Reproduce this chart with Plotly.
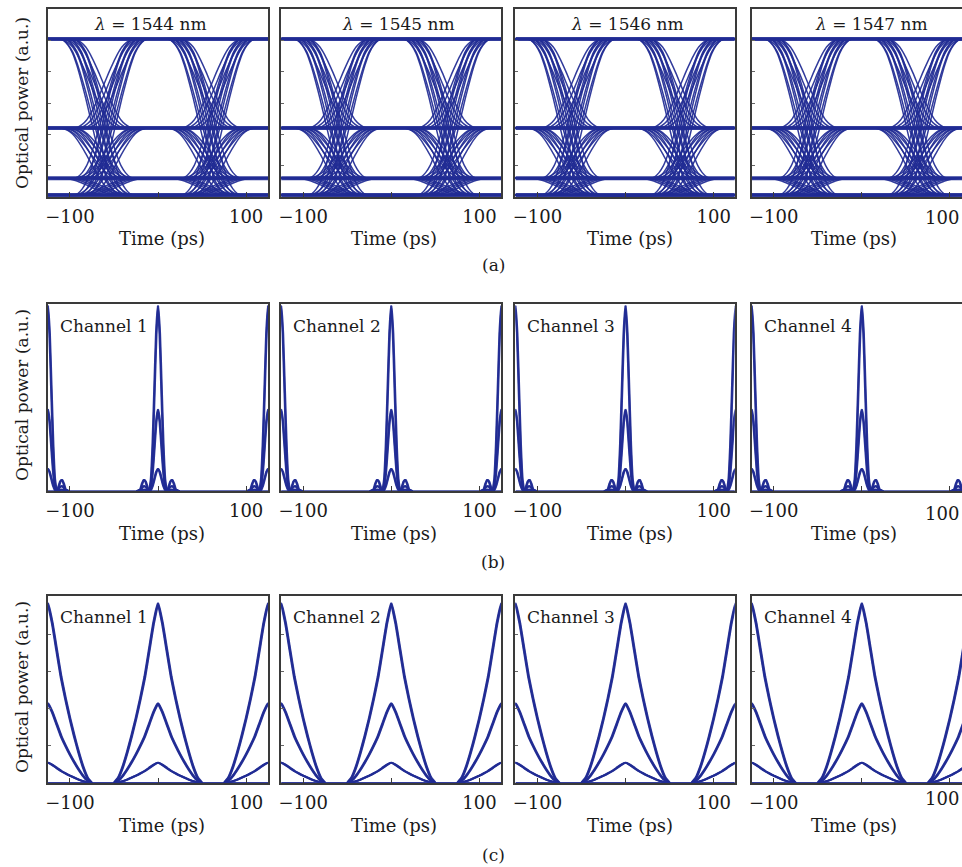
import plotly.graph_objects as go

W, H = 962, 867

# ---------------- data ----------------
wavelengths = ["1544", "1545", "1546", "1547"]
channels = ["Channel 1", "Channel 2", "Channel 3", "Channel 4"]
row_captions = ["(a)", "(b)", "(c)"]

x_tick_vals = [-100, 0, 100]
x_tick_text = ["\u2212100", "", "100"]

# (a) PAM4 eye: signal levels (a.u.)
eye_levels = [0.01, 0.10, 0.367, 0.84]
# normalised edge profile: time from edge centre (ps) / fraction of step
edge_t = [-35, -30, -25, -20, -15, -10, -5, 0, 5, 10, 15, 20, 25, 30, 35]
edge_v = [0.0, 0.01, 0.04, 0.09, 0.17, 0.27, 0.38, 0.50, 0.62, 0.73, 0.83, 0.91, 0.96, 0.99, 1.0]
# left / right edge centre (ps) for each wavelength panel
edge_centres = [(-62, 60), (-61, 63), (-62, 62), (-61, 63)]
fall_shift = -8
rise_shift = 8
edge_spread = [-7, -2, 3, 8]

# (b) narrow pulses: time from pulse centre (ps) / relative power
narrow_t = [0, 2, 4, 6, 8, 10, 12, 14, 16, 18, 20, 24]
narrow_v = [1.0, 0.85, 0.55, 0.25, 0.06, 0.0, 0.02, 0.05, 0.06, 0.04, 0.01, 0.0]
narrow_peaks = [1.0, 0.44, 0.12]

# (c) wide pulses
wide_t = [0, 5, 10, 15, 20, 25, 30, 35, 40, 45, 50]
wide_v = [1.0, 0.89, 0.74, 0.59, 0.47, 0.36, 0.26, 0.17, 0.09, 0.03, 0.0]
wide_peaks = [0.97, 0.43, 0.11]

pulse_slots = [-125, 0, 125]
pulse_jitter = [-0.6, 0.0, 0.6]

# ---------------- layout geometry (pixels) ----------------
col_px = [(45, 266), (279, 500), (514, 734), (751, 962)]
row_px = [(9, 197), (304, 491), (596, 783)]
tick_label_y = [218, 513, 798]
full_w = 221.0
LINE = "rgba(33,43,148,0.92)"
FONT = "DejaVu Serif, Liberation Serif, serif"
TXT = "#1a1a1a"


def px_x(p):
    return p / W


def px_y(p):
    return 1 - p / H


fig = go.Figure()


def axis_names(r, c):
    n = r * 4 + c + 1
    return ("x" if n == 1 else f"x{n}", "y" if n == 1 else f"y{n}",
            "xaxis" if n == 1 else f"xaxis{n}", "yaxis" if n == 1 else f"yaxis{n}")


def edge_pts(centre, y0, y1, k):
    if y0 == y1:
        return [], []
    sh = fall_shift if y1 < y0 else rise_shift
    c0 = centre + sh + edge_spread[k % len(edge_spread)]
    xs = [c0 + t for t in edge_t]
    ys = [y0 + (y1 - y0) * v for v in edge_v]
    return xs, ys


def pulse_pts(centre, peak, tt, vv):
    xs = [centre - t for t in reversed(tt)] + [centre + t for t in tt[1:]]
    ys = [peak * v for v in reversed(vv)] + [peak * v for v in vv[1:]]
    return xs, ys


ann = []
for r in range(3):
    for c in range(4):
        xa, ya, xk, yk = axis_names(r, c)
        x0, x1 = col_px[c]
        y0, y1 = row_px[r]
        xr_max = -125 + 250 * (x1 - x0) / full_w
        yrange = [0, 1] if r == 0 else [0, 1.01]
        ttext = x_tick_text if c != 3 else [x_tick_text[0], "", ""]
        if r == 0:
            yticks = [1 / 6, 2 / 6, 3 / 6, 4 / 6, 5 / 6]
        elif r == 2:
            yticks = [0.2, 0.4, 0.6, 0.8]
        else:
            yticks = []
        fig.layout[xk] = dict(
            domain=[px_x(x0), px_x(x1)], range=[-125, xr_max], anchor=ya,
            showline=True, linecolor="#3a3a3a", linewidth=1.7, mirror=True,
            ticks="inside", ticklen=5, tickcolor="#3a3a3a",
            tickvals=x_tick_vals, ticktext=ttext,
            tickfont=dict(family=FONT, size=18, color=TXT),
            ticklabelstandoff=3,
            showgrid=False, zeroline=False, fixedrange=True,
        )
        fig.layout[yk] = dict(
            domain=[px_y(y1), px_y(y0)], range=yrange, anchor=xa,
            showline=True, linecolor="#3a3a3a", linewidth=1.7, mirror=(c != 3),
            ticks="inside", ticklen=3, tickcolor="#666666",
            tickvals=yticks,
            showticklabels=False, showgrid=False, zeroline=False, fixedrange=True,
        )
        if c == 3:
            # last tick label of the cut-off right panel, placed on its own axis scale
            ann.append(dict(x=x_tick_vals[2], xref=xa, y=px_y(tick_label_y[r]), yref="paper",
                            text=x_tick_text[2], showarrow=False, xshift=-8,
                            font=dict(family=FONT, size=18, color=TXT),
                            xanchor="center", yanchor="middle"))

        X, Y = [], []
        if r == 0:
            cl, cr = edge_centres[c]
            k = 0
            for a in range(4):
                for b in range(4):
                    for d in range(4):
                        la, lb, ld = eye_levels[a], eye_levels[b], eye_levels[d]
                        e1x, e1y = edge_pts(cl, la, lb, 3 * a + b + k)
                        e2x, e2y = edge_pts(cr, lb, ld, a + 2 * b + 3 * d)
                        X += [-125] + e1x + e2x + [125, None]
                        Y += [la] + e1y + e2y + [ld, None]
                        k += 1
            fig.add_trace(go.Scatter(x=X, y=Y, xaxis=xa, yaxis=ya, mode="lines",
                                     line=dict(color=LINE, width=1.5, shape="spline", smoothing=0.5),
                                     hoverinfo="skip", showlegend=False))
            BX, BY = [], []
            for lv in eye_levels:
                BX += [-125, 125, None]
                BY += [lv, lv, None]
            fig.add_trace(go.Scatter(x=BX, y=BY, xaxis=xa, yaxis=ya, mode="lines",
                                     line=dict(color=LINE, width=4), hoverinfo="skip",
                                     showlegend=False))
        else:
            tt, vv, peaks = (narrow_t, narrow_v, narrow_peaks) if r == 1 else (wide_t, wide_v, wide_peaks)
            for slot in pulse_slots:
                for pk in peaks:
                    for j in pulse_jitter:
                        px_, py_ = pulse_pts(slot + j, pk, tt, vv)
                        X += px_ + [None]
                        Y += py_ + [None]
            X += [-125, 125, None]
            Y += [0, 0, None]
            fig.add_trace(go.Scatter(x=X, y=Y, xaxis=xa, yaxis=ya, mode="lines",
                                     line=dict(color=LINE, width=1.6 if r == 1 else 1.9,
                                               shape="spline", smoothing=0.4),
                                     hoverinfo="skip", showlegend=False))

lam_x = [148, 397, 626, 871]
for c in range(4):
    ann.append(dict(x=px_x(lam_x[c]), y=px_y(24), xref="paper", yref="paper",
                    text=f"<i>\u03bb</i> = {wavelengths[c]} nm", showarrow=False,
                    font=dict(family=FONT, size=17, color=TXT), xanchor="center", yanchor="middle"))
for r, yy in ((1, 326), (2, 617)):
    for c in range(4):
        ann.append(dict(x=px_x(col_px[c][0] + 10), y=px_y(yy), xref="paper", yref="paper",
                        text=channels[c], showarrow=False,
                        font=dict(family=FONT, size=17, color=TXT), xanchor="left", yanchor="middle"))
time_x = [159, 392, 629, 854]
time_y = [238, 533, 825]
for r in range(3):
    for c in range(4):
        ann.append(dict(x=px_x(time_x[c]), y=px_y(time_y[r]), xref="paper", yref="paper",
                        text="Time (ps)", showarrow=False,
                        font=dict(family=FONT, size=18, color=TXT), xanchor="center", yanchor="middle"))
power_y = [103, 395, 687]
for r in range(3):
    ann.append(dict(x=px_x(19), y=px_y(power_y[r]), xref="paper", yref="paper",
                    text="Optical power (a.u.)", showarrow=False, textangle=-90,
                    font=dict(family=FONT, size=17, color=TXT), xanchor="center", yanchor="middle"))
cap_y = [265, 562, 855]
for r in range(3):
    ann.append(dict(x=px_x(492), y=px_y(cap_y[r]), xref="paper", yref="paper",
                    text=row_captions[r], showarrow=False,
                    font=dict(family=FONT, size=17, color=TXT), xanchor="center", yanchor="middle"))

fig.update_layout(
    width=W, height=H, margin=dict(l=0, r=0, t=0, b=0),
    paper_bgcolor="white", plot_bgcolor="white",
    annotations=ann, showlegend=False,
)

fig.write_html(
    "out.html",
    config={"displayModeBar": False},
    post_script="document.body.style.margin='0px';document.body.style.overflow='hidden';",
)
